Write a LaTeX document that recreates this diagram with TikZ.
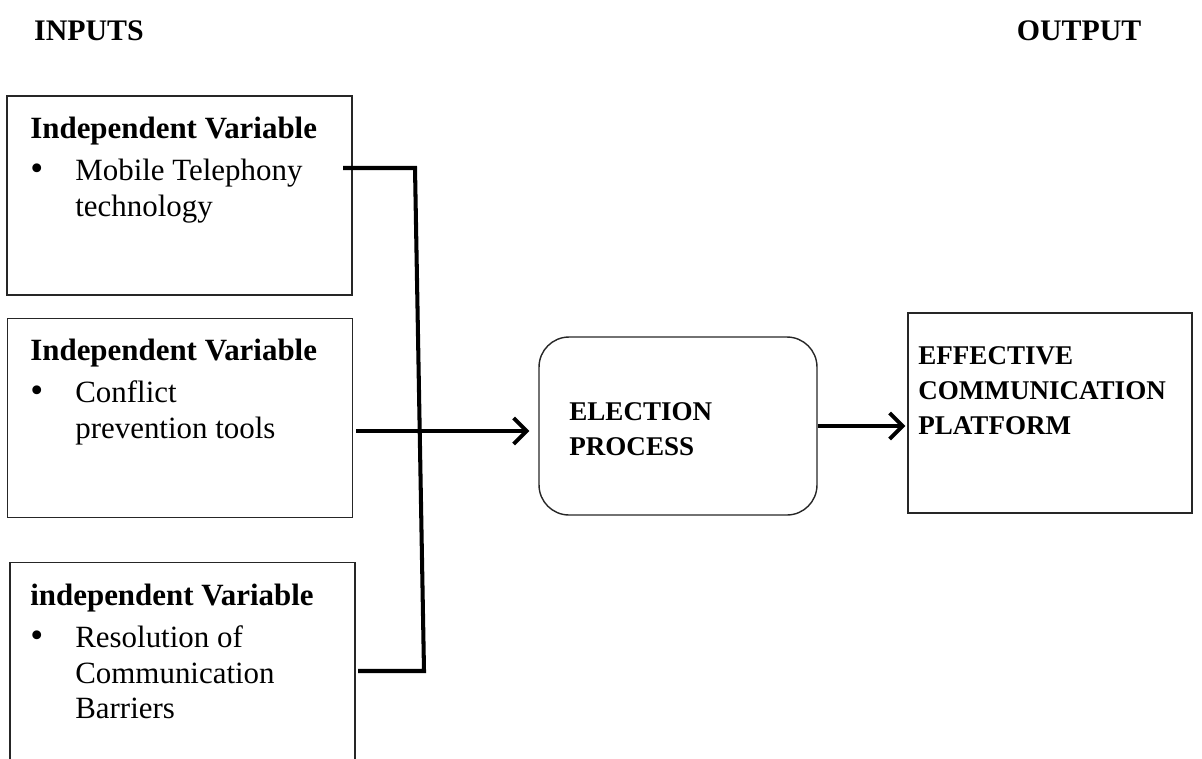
\documentclass[tikz,border=0pt]{standalone}
\usepackage{fontspec}
\setmainfont{Liberation Serif}
\usetikzlibrary{arrows.meta,positioning}
\newcommand{\blt}{\makebox[0.9cm][l]{\fontsize{21}{20}\selectfont\textbullet}}

\begin{document}
\begin{tikzpicture}[x=0.02cm,y=-0.02cm,>={Straight Barb[length=2.6mm,width=5.2mm,line width=2.2pt]},
  inbox/.style={draw=black!85,line width=0.8pt,minimum width=6.9cm,minimum height=3.98cm,inner sep=0pt},
  btext/.style={anchor=north west,inner sep=0pt,align=left,font=\fontsize{17.6}{20}\selectfont},
  ctext/.style={anchor=north west,inner sep=0pt,align=left,font=\fontsize{15.4}{20}\selectfont\bfseries},
  head/.style={font=\fontsize{17}{20}\selectfont\bfseries},
  link/.style={line width=2.3pt}]
\useasboundingbox (0,0) rectangle (1202,758);
% headings
\node[head] (inputs) at (89,31) {INPUTS};
\node[head] (output) at (1079,31) {OUTPUT};
% input boxes
\foreach \n/\x/\y in {in1/179.5/195.5,in2/180/418,in3/182.5/662}
  \node[inbox] (\n) at (\x,\y) {};
\node[btext] (l1) at (30,117) {\textbf{Independent Variable}\\[4pt]
  \blt Mobile Telephony\\ \hspace*{0.9cm}technology};
\node[btext] (l2) at (30,339) {\textbf{Independent Variable}\\[4pt]
  \blt Conflict\\ \hspace*{0.9cm}prevention tools};
\node[btext] (l3) at (30,584) {\textbf{independent Variable}\\[4pt]
  \blt Resolution of\\ \hspace*{0.9cm}Communication\\ \hspace*{0.9cm}Barriers};
% process and output
\node[draw=black!85,line width=0.8pt,rounded corners=0.6cm,minimum width=5.56cm,minimum height=3.56cm] (proc) at (678,426) {};
\node[ctext] (ptext) at (569,402) {ELECTION\\PROCESS};
\node[draw=black!85,line width=0.8pt,minimum width=5.68cm,minimum height=4cm] (out) at (1050,413) {};
\node[ctext] (otext) at (918,346) {EFFECTIVE\\COMMUNICATION\\PLATFORM};
% connectors
\coordinate (t1) at (343,168);
\coordinate (k1) at (415,168);
\coordinate (k3) at (424,671);
\coordinate (t3) at (358,671);
\coordinate (t2) at (356,431);
\draw[link] (t1) -- (k1) -- (k3) -- (t3);
\draw[link,->,shorten >=0.18cm] (t2) -- (t2 -| proc.west);
\draw[link,->,shorten >=0.04cm] (proc.east) -- (proc.east -| out.west);
\end{tikzpicture}
\end{document}
